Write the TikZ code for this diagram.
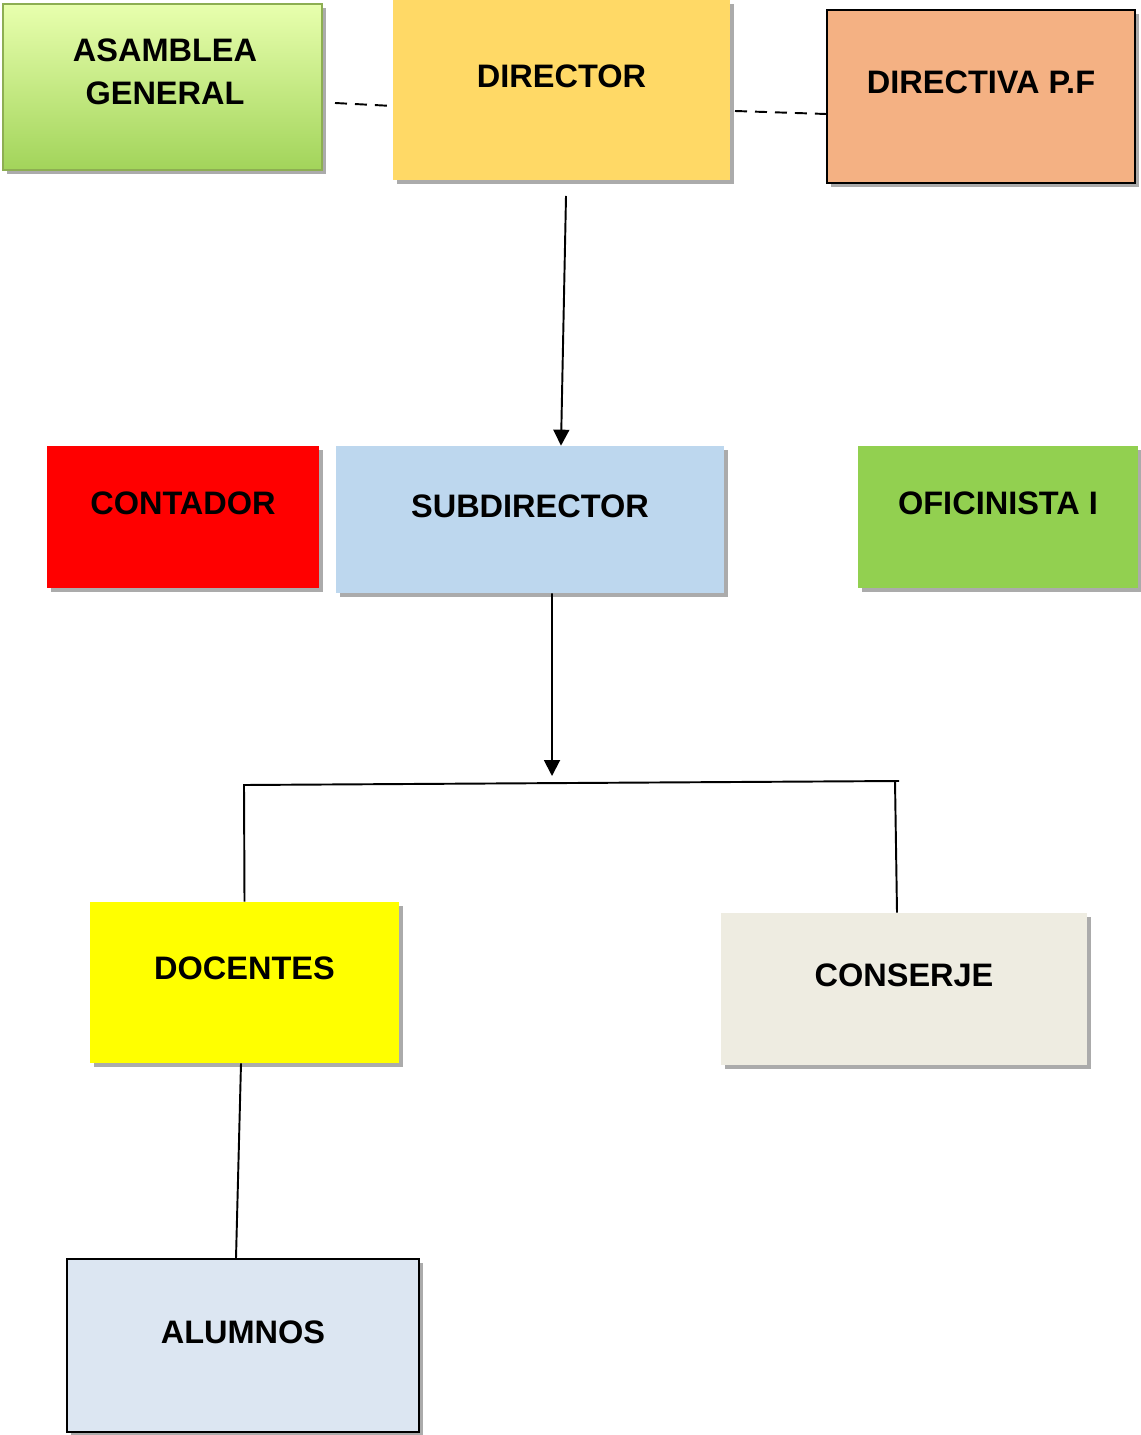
\documentclass[tikz,border=0pt]{standalone}
\usepackage{fontspec}
\setmainfont{Liberation Sans}
\usetikzlibrary{arrows.meta,positioning,calc,shadows}
\definecolor{asamtop}{HTML}{E8FFAE}
\definecolor{asambot}{HTML}{A2D45A}
\definecolor{asamedge}{HTML}{8DAE52}
\definecolor{director}{HTML}{FFD966}
\definecolor{directiva}{HTML}{F4B183}
\definecolor{contador}{HTML}{FF0000}
\definecolor{subdir}{HTML}{BDD7EE}
\definecolor{oficina}{HTML}{92D050}
\definecolor{docentes}{HTML}{FFFF00}
\definecolor{conserje}{HTML}{EEECE1}
\definecolor{alumnos}{HTML}{DCE6F2}

\begin{document}
\begin{tikzpicture}[x=0.02cm, y=-0.02cm,
  box/.style={rectangle, inner sep=0pt, drop shadow={shadow xshift=2.5pt, shadow yshift=-2.5pt, opacity=0.55, fill=black!60}},
  edgebox/.style={box, draw=black, line width=1.2pt},
  lbl/.style={font=\bfseries\fontsize{18.5}{24.4}\selectfont, align=center, inner sep=0pt, text=black},
  link/.style={line width=1.1pt, draw=black},
  arrow/.style={link, -{Triangle[length=3.2mm, width=3.2mm]}},
  dashlink/.style={line width=1.1pt, draw=black, dash pattern=on 0.24cm off 0.16cm}
]
\useasboundingbox (0,0) rectangle (1141,1435);

\node[box, top color=asamtop, bottom color=asambot, draw=asamedge, line width=0.8pt, minimum width=6.38cm, minimum height=3.32cm] (asam) at (162.5,87) {};
\node[box, fill=director, minimum width=6.74cm, minimum height=3.6cm] (dir) at (561.5,90) {};
\node[edgebox, fill=directiva, minimum width=6.16cm, minimum height=3.46cm] (dirpf) at (981,96.5) {};

\node[box, fill=contador, minimum width=5.44cm, minimum height=2.84cm] (cont) at (183,517) {};
\node[box, fill=subdir, minimum width=7.76cm, minimum height=2.94cm] (sub) at (530,519.5) {};
\node[box, fill=oficina, minimum width=5.6cm, minimum height=2.84cm] (ofi) at (998,517) {};

\node[box, fill=docentes, minimum width=6.18cm, minimum height=3.22cm] (doc) at (244.5,982.5) {};
\node[box, fill=conserje, minimum width=7.32cm, minimum height=3.04cm] (cons) at (904,989) {};
\node[edgebox, fill=alumnos, minimum width=7.04cm, minimum height=3.46cm] (alum) at (243,1345.5) {};

\node[lbl] (asamlbl) at ([xshift=0.05cm, yshift=0.31cm]asam.center) {ASAMBLEA\\GENERAL};
\node[lbl] (dirlbl) at ([yshift=0.28cm]dir.center) {DIRECTOR};
\node[lbl] (dirpflbl) at ([yshift=0.29cm]dirpf.center) {DIRECTIVA P.F};
\node[lbl] (contlbl) at ([yshift=0.28cm]cont.center) {CONTADOR};
\node[lbl] (sublbl) at ([yshift=0.27cm]sub.center) {SUBDIRECTOR};
\node[lbl] (ofilbl) at ([yshift=0.28cm]ofi.center) {OFICINISTA I};
\node[lbl] (doclbl) at ([yshift=0.29cm]doc.center) {DOCENTES};
\node[lbl] (conslbl) at ([yshift=0.28cm]cons.center) {CONSERJE};
\node[lbl] (alumlbl) at ([yshift=0.27cm]alum.center) {ALUMNOS};

\coordinate (asamdash) at (335,103);
\coordinate (dirdash) at (735,111);
\coordinate (dirout) at (566,196);
\coordinate (bartip) at (552,776);
\coordinate (barl) at (244,785);
\coordinate (barr) at (899,781);
\coordinate (barrdown) at (895,781);

\draw[dashlink] (asamdash) -- ([yshift=-0.32cm]dir.west);
\draw[dashlink] (dirdash) -- ([yshift=-0.35cm]dirpf.west);
\draw[arrow] (dirout) -- ([xshift=0.62cm]sub.north);
\draw[arrow] ([xshift=0.44cm]sub.south) -- (bartip);
\draw[link] (doc.north) -- (barl) -- (barr);
\draw[link] (barrdown) -- ([xshift=-0.14cm]cons.north);
\draw[link] ([xshift=-0.07cm]doc.south) -- ([xshift=-0.14cm]alum.north);
\end{tikzpicture}
\end{document}
